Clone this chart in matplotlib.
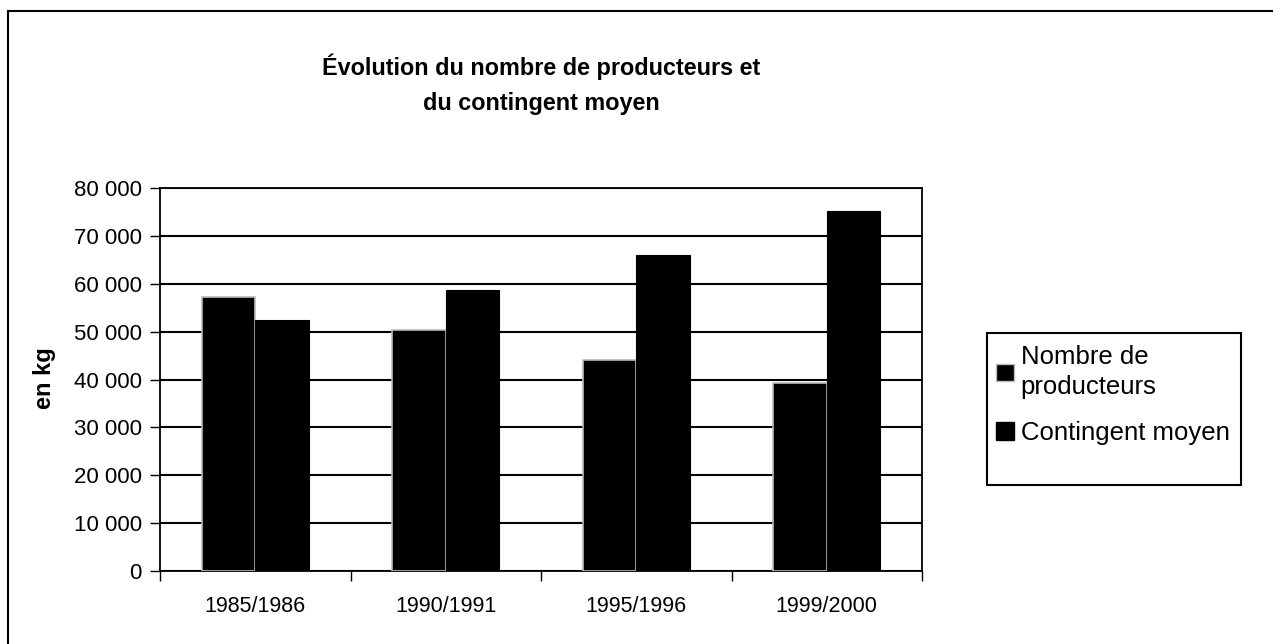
import numpy as np
import matplotlib
matplotlib.use("Agg")
import matplotlib.pyplot as plt
from matplotlib.lines import Line2D
from matplotlib.patches import Patch, Rectangle

plt.rcParams['font.family'] = ['Liberation Sans', 'DejaVu Sans']

# data
periodes = ['1985/1986', '1990/1991', '1995/1996', '1999/2000']
producteurs = [57300, 50300, 44000, 39300]
contingent = [52500, 58700, 66000, 75300]
yticks = [0, 10000, 20000, 30000, 40000, 50000, 60000, 70000, 80000]
ytick_labels = ['0', '10 000', '20 000', '30 000', '40 000', '50 000',
                '60 000', '70 000', '80 000']

W, H = 1273, 644
fig = plt.figure(figsize=(W / 100, H / 100), dpi=100)
ax = fig.add_axes([160 / W, 1 - 571 / H, (922 - 160) / W, (571 - 188) / H])

x = np.arange(len(periodes))
bw = 0.28
ax.bar(x - bw / 2, producteurs, bw, color='black', edgecolor='#bbbbbb',
       linewidth=1.2, zorder=3)
ax.bar(x + bw / 2, contingent, bw, color='black', edgecolor='black',
       linewidth=0.8, zorder=3)

ax.set_xlim(-0.5, len(periodes) - 0.5)
ax.set_ylim(0, 80000)
ax.set_yticks(yticks)
ax.set_yticklabels(ytick_labels, fontsize=16)
ax.set_xticks(x)
ax.set_xticklabels(periodes, fontsize=15.5)
ax.tick_params(axis='x', length=0, pad=18)
ax.set_xticks(np.arange(-0.5, len(periodes)), minor=True)
ax.tick_params(axis='x', which='minor', length=7, width=1, direction='out')
ax.tick_params(axis='y', length=7, width=1, direction='out', pad=6)
ax.yaxis.grid(True, color='black', linewidth=1.5, zorder=0)
ax.set_axisbelow(True)
for s in ax.spines.values():
    s.set_linewidth(1.3)

fig.text(45 / W, 1 - 378 / H, 'en kg', rotation=90, fontsize=17,
         fontweight='bold', ha='center', va='center')

fig.text(541 / W, 1 - 84 / H, 'Évolution du nombre de producteurs et\ndu contingent moyen',
         fontsize=16.8, fontweight='bold', ha='center', va='center',
         linespacing=1.65)

handles = [Patch(facecolor='black', edgecolor='#bbbbbb', linewidth=1),
           Patch(facecolor='black', edgecolor='black')]
leg = fig.legend(handles, ['Nombre de\nproducteurs', 'Contingent moyen'],
                 loc='upper left', bbox_to_anchor=(991 / W, 1 - 340 / H),
                 fontsize=18.5, frameon=False,
                 handlelength=0.7, handleheight=0.7, handletextpad=0.25,
                 borderpad=0.2, borderaxespad=0, labelspacing=0.85)
for t in leg.get_texts():
    t.set_linespacing(1.3)
# legend box is larger than its entries, as in the original
fig.add_artist(Rectangle((987 / W, 1 - 485 / H), (1241 - 987) / W, (485 - 333) / H,
                         transform=fig.transFigure, fill=False,
                         edgecolor='black', linewidth=1.5))

# outer frame, only top and left visible
fig.add_artist(Line2D([10 / W, 1], [1 - 11 / H, 1 - 11 / H], color='black', linewidth=1.5))
fig.add_artist(Line2D([8 / W, 8 / W], [0, 1 - 11 / H], color='black', linewidth=1.5))

fig.savefig('out.png', dpi=100)
